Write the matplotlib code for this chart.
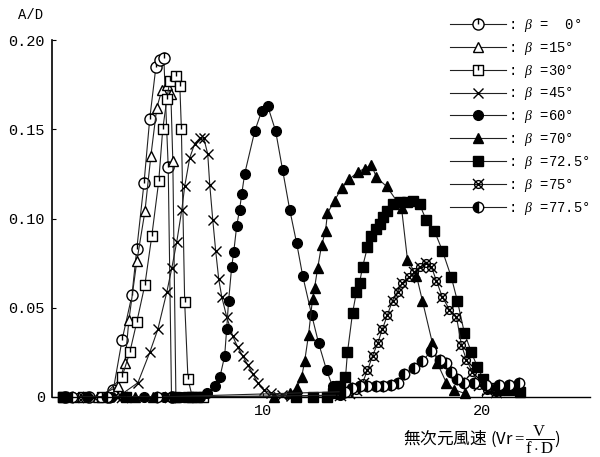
import numpy as np
import matplotlib
matplotlib.use("Agg")
import matplotlib.pyplot as plt
from matplotlib.path import Path

plt.rcParams['font.family'] = ['Liberation Mono', 'Noto Sans CJK JP', 'DejaVu Sans']
plt.rcParams['mathtext.fontset'] = 'custom'
plt.rcParams['mathtext.rm'] = 'Liberation Serif'
plt.rcParams['mathtext.it'] = 'Liberation Serif:italic'

# 振幅応答 A/D vs 無次元風速 Vr  (beta ごと)
b0_v = [1.0, 2.1, 3.0, 3.2, 3.6, 4.05, 4.27, 4.6, 4.86, 5.14, 5.32, 5.5, 5.7, 5.85]
b0_a = [0, 0, 0, 0.004, 0.032, 0.057, 0.083, 0.12, 0.156, 0.185, 0.189, 0.19, 0.129, 0.0]

b15_v = [1.4, 2.5, 3.41, 3.73, 3.91, 4.27, 4.64, 4.91, 5.18, 5.41, 5.64, 5.82, 5.91, 6.05]
b15_a = [0, 0, 0.006, 0.019, 0.043, 0.076, 0.104, 0.135, 0.162, 0.172, 0.175, 0.170, 0.132, 0.0]

b30_v = [0.9, 1.8, 2.7, 3.59, 3.95, 4.27, 4.64, 4.95, 5.27, 5.45, 5.64, 5.77, 6.05, 6.23, 6.3, 6.45, 6.6, 6.8, 7.3]
b30_a = [0, 0, 0, 0.011, 0.025, 0.042, 0.063, 0.090, 0.121, 0.150, 0.167, 0.177, 0.180, 0.174, 0.150, 0.053, 0.010, 0, 0]

b45_v = [1.2, 2.3, 3.4, 4.32, 4.86, 5.23, 5.64, 5.86, 6.09, 6.32, 6.45, 6.68, 6.91, 7.14, 7.32, 7.5,
         7.59, 7.73, 7.86, 8.0, 8.14, 8.36, 8.64, 8.86, 9.09, 9.32, 9.55, 9.77, 10.05, 10.4, 10.86, 11.3]
b45_a = [0, 0, 0, 0.008, 0.025, 0.038, 0.059, 0.072, 0.087, 0.105, 0.118, 0.134, 0.142, 0.145, 0.145, 0.136,
         0.119, 0.099, 0.082, 0.066, 0.056, 0.045, 0.034, 0.028, 0.023, 0.018, 0.013, 0.008, 0.004, 0.002, 0.001, 0.0005]

b60_v = [2.0, 3.1, 4.6, 5.5, 6.3, 6.8, 7.14, 7.45, 7.82, 8.05, 8.27, 8.36, 8.45, 8.59, 8.68, 8.82, 8.95, 9.05,
         9.18, 9.64, 9.95, 10.23, 10.59, 10.91, 11.23, 11.55, 11.82, 12.23, 12.55, 12.91, 13.18, 13.5]
b60_a = [0, 0, 0, 0, 0, 0, 0, 0.002, 0.006, 0.011, 0.023, 0.038, 0.054, 0.073, 0.081, 0.096, 0.105, 0.114,
         0.125, 0.149, 0.160, 0.163, 0.149, 0.127, 0.105, 0.086, 0.068, 0.046, 0.030, 0.015, 0.006, 0.001]

b70_v = [4.2, 5.0, 10.5, 11.23, 11.55, 11.77, 11.91, 12.09, 12.27, 12.36, 12.5, 12.68, 12.86, 12.95, 13.27,
         13.59, 13.95, 14.32, 14.64, 14.95, 15.18, 15.64, 16.32, 16.59, 17.0, 17.27, 17.73, 17.95, 18.36, 18.73, 19.2]
b70_a = [0, 0, 0, 0.002, 0.005, 0.011, 0.020, 0.035, 0.055, 0.061, 0.072, 0.085, 0.093, 0.103, 0.110,
         0.117, 0.122, 0.126, 0.128, 0.130, 0.123, 0.118, 0.106, 0.077, 0.068, 0.054, 0.030, 0.019, 0.008, 0.004, 0.002]

b72_v = [0.9, 3.8, 6.0, 6.6, 7.0, 11.5, 12.3, 12.95, 13.18, 13.5, 13.77, 13.86, 14.09, 14.27, 14.41, 14.55,
         14.77, 14.95, 15.18, 15.32, 15.5, 15.68, 15.91, 16.23, 16.55, 16.86, 17.14, 17.45, 17.82, 18.18,
         18.59, 18.86, 19.18, 19.5, 19.77, 20.05, 20.41, 20.77, 21.2, 21.7]
b72_a = [0, 0, 0, 0, 0, 0, 0, 0, 0.002, 0.006, 0.011, 0.025, 0.047, 0.059, 0.064, 0.073,
         0.084, 0.090, 0.094, 0.097, 0.101, 0.104, 0.108, 0.109, 0.109, 0.110, 0.108, 0.099, 0.093, 0.082,
         0.067, 0.054, 0.036, 0.025, 0.017, 0.010, 0.005, 0.004, 0.004, 0.003]

b75_v = [1.6, 3.6, 5.8, 13.5, 13.95, 14.27, 14.55, 14.77, 15.0, 15.23, 15.45, 15.68, 15.91, 16.14, 16.36,
         16.68, 16.91, 17.18, 17.45, 17.68, 17.91, 18.18, 18.5, 18.82, 19.05, 19.27, 19.55, 19.86, 20.23, 20.6]
b75_a = [0, 0, 0, 0.001, 0.002, 0.004, 0.008, 0.015, 0.023, 0.030, 0.038, 0.046, 0.054, 0.059, 0.064,
         0.067, 0.070, 0.073, 0.075, 0.073, 0.065, 0.056, 0.049, 0.045, 0.029, 0.021, 0.014, 0.007, 0.004, 0.003]

b77_v = [1.3, 2.9, 5.2, 13.73, 14.05, 14.41, 14.77, 15.14, 15.5, 15.82, 16.14, 16.45, 16.91, 17.27, 17.68,
         18.05, 18.36, 18.59, 18.86, 19.18, 19.64, 20.18, 20.77, 21.23, 21.68]
b77_a = [0, 0, 0, 0.003, 0.005, 0.006, 0.006, 0.006, 0.006, 0.007, 0.008, 0.013, 0.016, 0.020, 0.026,
         0.021, 0.019, 0.014, 0.010, 0.008, 0.008, 0.007, 0.007, 0.007, 0.008]

labels = ["  0°", "15°", "30°", "45°", "60°", "70°", "72.5°", "75°", "77.5°"]

# マーカー形状
circ = Path.unit_circle()
vbar = Path([(0, 0), (0, 1)], [Path.MOVETO, Path.LINETO])
m_circ_bar = Path.make_compound_path(circ, vbar)
sq = Path([(-1, -1), (1, -1), (1, 1), (-1, 1), (-1, -1)],
          [Path.MOVETO, Path.LINETO, Path.LINETO, Path.LINETO, Path.CLOSEPOLY])
m_sq_bar = Path.make_compound_path(sq, vbar)
small_circ = Path(circ.vertices * 0.7, circ.codes)
xx = Path([(-1, -1), (1, 1), (-1, 1), (1, -1)],
          [Path.MOVETO, Path.LINETO, Path.MOVETO, Path.LINETO])
m_circ_x = Path.make_compound_path(small_circ, xx)

styles = [
    dict(marker=m_circ_bar, mfc='white', ms=8),
    dict(marker='^', mfc='white', ms=6.5),
    dict(marker=m_sq_bar, mfc='white', ms=6.5),
    dict(marker='x', mfc='none', ms=7, mew=1.0),
    dict(marker='o', mfc='black', ms=7),
    dict(marker='^', mfc='black', ms=7),
    dict(marker='s', mfc='black', ms=6.5),
    dict(marker=m_circ_x, mfc='none', ms=8),
    dict(marker='o', mfc='black', mfcalt='white', fillstyle='left', ms=7.5),
]

series = [(b0_v, b0_a), (b15_v, b15_a), (b30_v, b30_a), (b45_v, b45_a), (b60_v, b60_a),
          (b70_v, b70_a), (b72_v, b72_a), (b75_v, b75_a), (b77_v, b77_a)]

fig = plt.figure(figsize=(6.0, 4.57), dpi=100)
ax = fig.add_axes([52/600, 1-397/457, 538/600, 357/457])

handles = []
for (v, a), st, lab in zip(series, styles, labels):
    h, = ax.plot(v, a, color='#222222', lw=0.8, mec='black', clip_on=False,
                 label=": $\\beta$ =" + lab, **st)
    handles.append(h)

ax.set_xlim(0.41, 24.9)
ax.set_ylim(0, 0.20)
for s in ['top', 'right']:
    ax.spines[s].set_visible(False)
ax.spines['left'].set_linewidth(1.2)
ax.spines['bottom'].set_linewidth(1.0)

ax.set_xticks([10, 20])
ax.set_xticklabels(['10', '20'])
ax.set_yticks([0, 0.05, 0.10, 0.15, 0.20])
ax.set_yticklabels(['0', '0.05', '0.10', '0.15', '0.20'])
ax.tick_params(direction='in', length=3, labelsize=11, pad=5)

ax.text(-0.04, 1.07, "A/D", transform=ax.transAxes, fontsize=10, ha='center', va='center')

fig.text(482/600, 1-440/457, "無次元風速 (Vr$=\\dfrac{\\mathrm{V}}{\\mathrm{f\\cdot D}}$)",
         ha='center', va='center', fontsize=12,
         family=['Noto Sans CJK JP', 'DejaVu Sans'])

leg = fig.legend(handles=handles, loc='upper left', bbox_to_anchor=(450/600, 1-17/457),
                 frameon=False, fontsize=10, handlelength=4.0, handletextpad=0.2,
                 labelspacing=0.42, borderpad=0, borderaxespad=0)

fig.savefig("out.png", dpi=100)
